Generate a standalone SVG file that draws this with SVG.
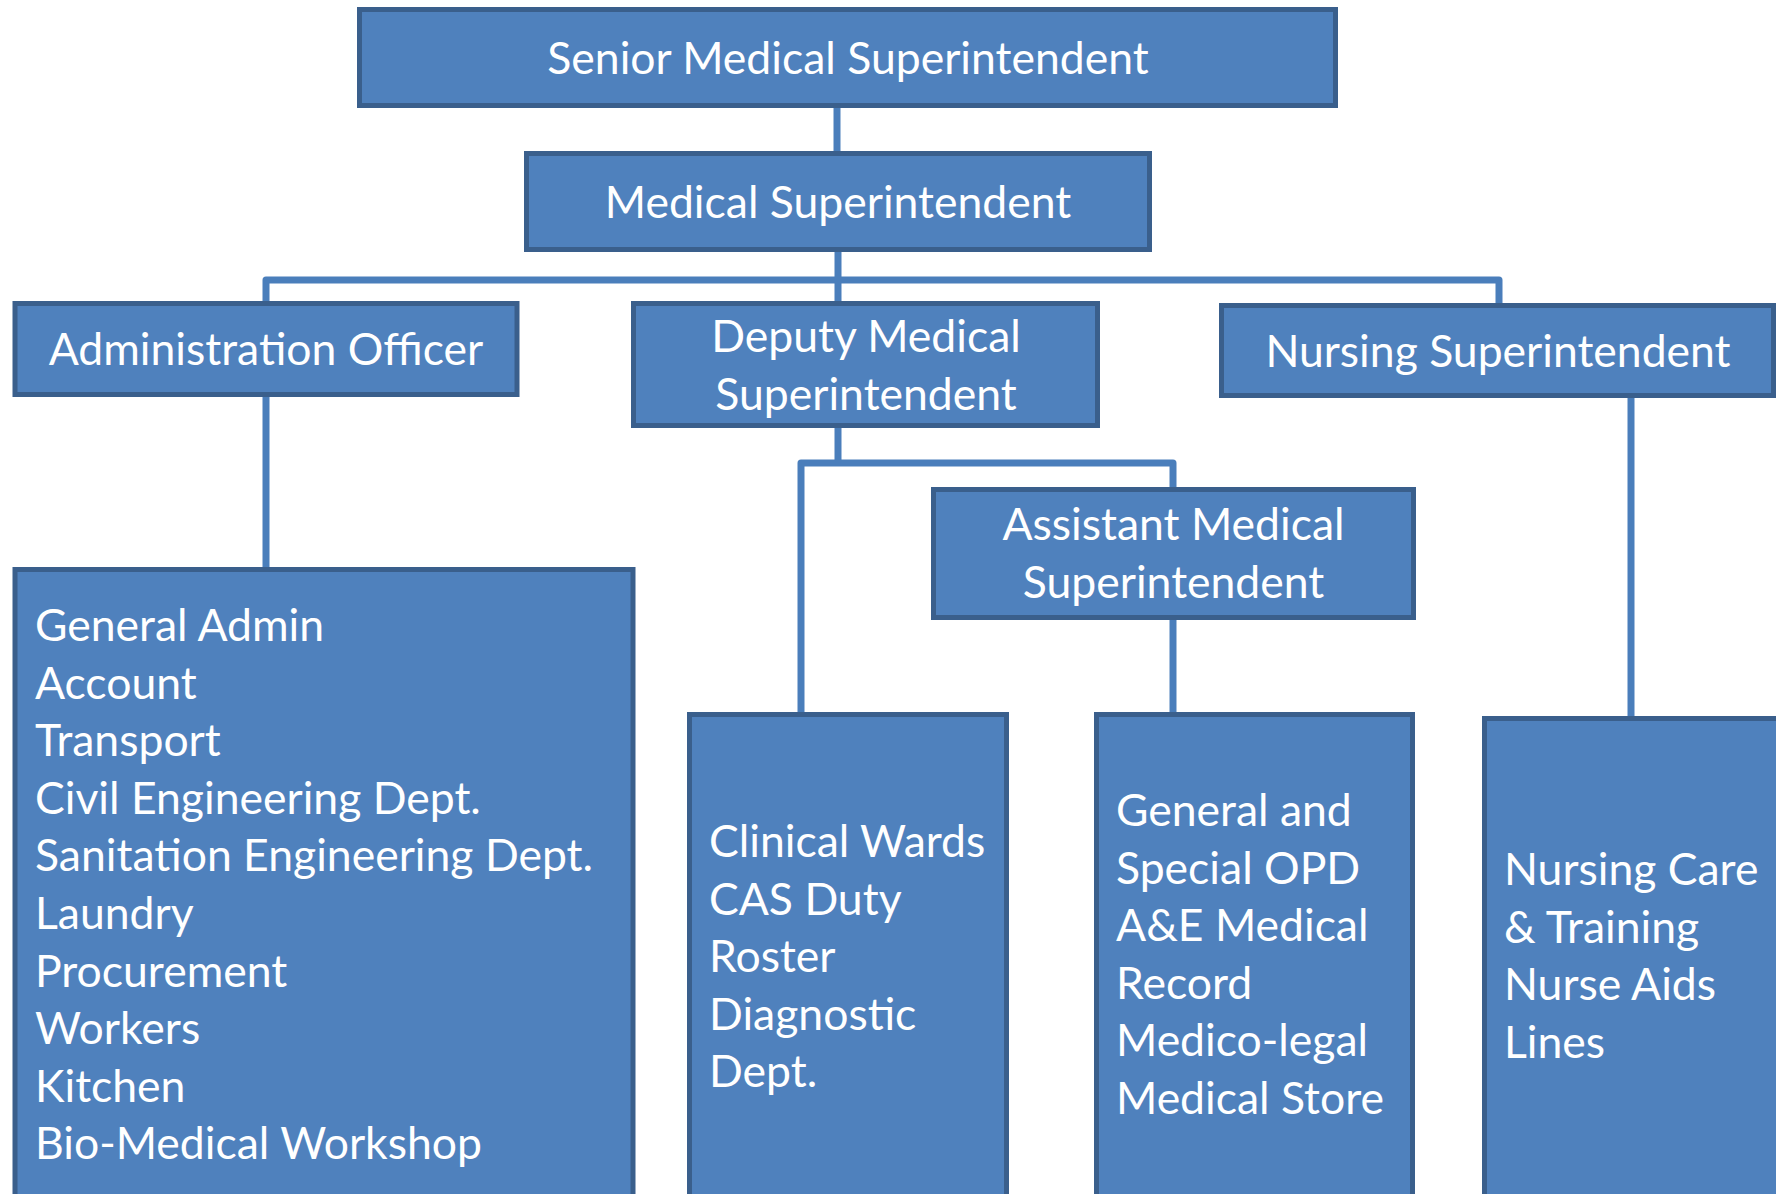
<svg xmlns="http://www.w3.org/2000/svg" width="1776" height="1194" viewBox="0 0 1776 1194">
<style>
.box{fill:#4F81BD;stroke:#3A5F8C;stroke-width:5}
.lbl{font-family:Lato,"Open Sans","Liberation Sans",sans-serif;font-size:44.5px;fill:#FFFFFF}
.c{text-anchor:middle}
.conn{fill:none;stroke:#4A7EBB;stroke-width:7;stroke-linejoin:round}
</style>
<rect width="1776" height="1194" fill="#FFFFFF"/>
<g id="connectors">
<path class="conn" d="M837 106V151"/>
<path class="conn" d="M838 252V280M266 301V280H1499V303M838 280V301"/>
<path class="conn" d="M266 397V567"/>
<path class="conn" d="M838 428V463M801 715V463H1173V487"/>
<path class="conn" d="M1173 620V712"/>
<path class="conn" d="M1631 398V716"/>
</g>
<g id="senior-medical-superintendent">
<rect class="box" x="359.5" y="9.5" width="976" height="96"/>
<text class="lbl c" x="848" y="74">Senior Medical Superintendent</text>
</g>
<g id="medical-superintendent">
<rect class="box" x="526.5" y="153.5" width="623" height="96"/>
<text class="lbl c" x="838" y="218">Medical Superintendent</text>
</g>
<g id="administration-officer">
<rect class="box" x="15" y="303.5" width="502" height="91"/>
<text class="lbl c" x="266" y="365">Administration Officer</text>
</g>
<g id="deputy-medical-superintendent">
<rect class="box" x="633.5" y="303.5" width="464" height="122"/>
<text class="lbl c" x="866" y="352">Deputy Medical</text>
<text class="lbl c" x="866" y="410">Superintendent</text>
</g>
<g id="nursing-superintendent">
<rect class="box" x="1221.5" y="305.5" width="552" height="90"/>
<text class="lbl c" x="1498" y="367">Nursing Superintendent</text>
</g>
<g id="assistant-medical-superintendent">
<rect class="box" x="933.5" y="489.5" width="480" height="128"/>
<text class="lbl c" x="1173.5" y="540">Assistant Medical</text>
<text class="lbl c" x="1173.5" y="598">Superintendent</text>
</g>
<g id="admin-departments">
<rect class="box" x="15" y="569.5" width="618" height="660"/>
<text class="lbl" x="35" y="641">General Admin</text>
<text class="lbl" x="35" y="698.6">Account</text>
<text class="lbl" x="35" y="756.2">Transport</text>
<text class="lbl" x="35" y="813.8">Civil Engineering Dept.</text>
<text class="lbl" x="35" y="871.4">Sanitation Engineering Dept.</text>
<text class="lbl" x="35" y="929">Laundry</text>
<text class="lbl" x="35" y="986.6">Procurement</text>
<text class="lbl" x="35" y="1044.2">Workers</text>
<text class="lbl" x="35" y="1101.8">Kitchen</text>
<text class="lbl" x="35" y="1159.4">Bio-Medical Workshop</text>
</g>
<g id="clinical-departments">
<rect class="box" x="689.5" y="714.5" width="317" height="520"/>
<text class="lbl" x="709" y="857">Clinical Wards</text>
<text class="lbl" x="709" y="914.5">CAS Duty</text>
<text class="lbl" x="709" y="972">Roster</text>
<text class="lbl" x="709" y="1029.5">Diagnostic</text>
<text class="lbl" x="709" y="1087">Dept.</text>
</g>
<g id="opd-departments">
<rect class="box" x="1096.5" y="714.5" width="316" height="520"/>
<text class="lbl" x="1116" y="826">General and</text>
<text class="lbl" x="1116" y="883.5">Special OPD</text>
<text class="lbl" x="1116" y="941">A&amp;E Medical</text>
<text class="lbl" x="1116" y="998.5">Record</text>
<text class="lbl" x="1116" y="1056">Medico-legal</text>
<text class="lbl" x="1116" y="1113.5">Medical Store</text>
</g>
<g id="nursing-departments">
<rect class="box" x="1484.5" y="718.5" width="400" height="520"/>
<text class="lbl" x="1504" y="885">Nursing Care</text>
<text class="lbl" x="1504" y="942.5">&amp; Training</text>
<text class="lbl" x="1504" y="1000">Nurse Aids</text>
<text class="lbl" x="1504" y="1057.5">Lines</text>
</g>
</svg>
